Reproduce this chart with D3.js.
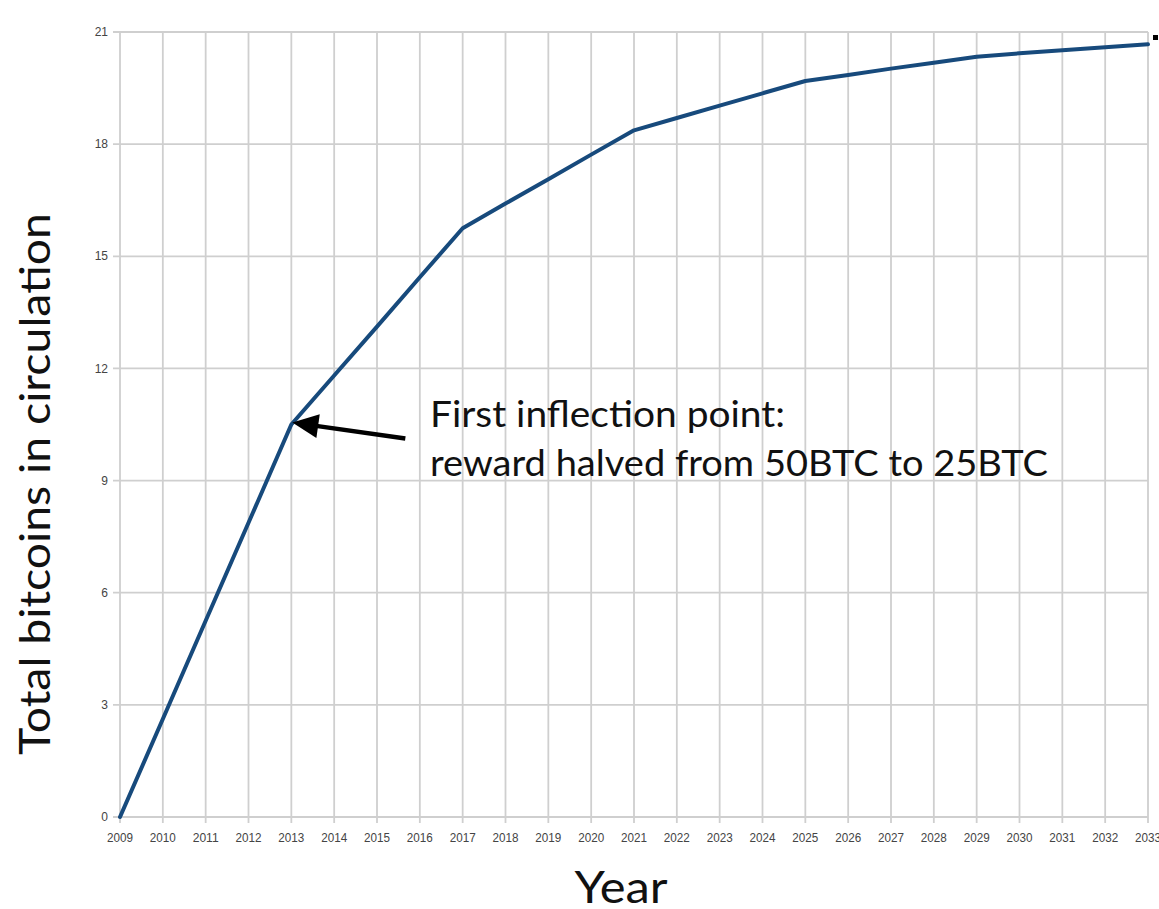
<!DOCTYPE html>
<html>
<head>
<meta charset="utf-8">
<script src="https://cdn.jsdelivr.net/npm/d3@7"></script>
<style>
  html, body { margin: 0; padding: 0; background: #ffffff; }
  svg { display: block; }
</style>
</head>
<body>
<svg id="chart" width="1159" height="909"></svg>
<script>
// ---- data ----
const years = [2009, 2010, 2011, 2012, 2013, 2014, 2015, 2016, 2017, 2018, 2019, 2020, 2021,
               2022, 2023, 2024, 2025, 2026, 2027, 2028, 2029, 2030, 2031, 2032, 2033];
const totalBitcoins = [0, 2.62, 5.25, 7.87, 10.5, 11.81, 13.12, 14.44, 15.75, 16.41, 17.06, 17.72, 18.37,
                       18.7, 19.03, 19.36, 19.69, 19.85, 20.02, 20.18, 20.34, 20.43, 20.51, 20.59, 20.67];
const yTicks = [0, 3, 6, 9, 12, 15, 18, 21];
const xTickLabels = years.map(String);
const annotationPoint = { year: 2013, value: 10.5 };
const annotationLines = ["First inflection point:", "reward halved from 50BTC to 25BTC"];
const xTitle = "Year";
const yTitle = "Total bitcoins in circulation";

// ---- layout ----
const svg = d3.select("#chart");
const pLeft = 120, pRight = 1148, pTop = 32, pBottom = 817;

const x = d3.scaleLinear().domain([2009, 2033]).range([pLeft, pRight]);
const y = d3.scaleLinear().domain([0, 21]).range([pBottom, pTop]);

const grid = svg.append("g");
grid.selectAll("line.v").data(years).enter().append("line")
  .attr("x1", d => x(d)).attr("x2", d => x(d))
  .attr("y1", pTop).attr("y2", pBottom + 6)
  .attr("stroke", "#cfcfcf").attr("stroke-width", 1.8);
grid.selectAll("line.h").data(yTicks).enter().append("line")
  .attr("x1", pLeft - 7).attr("x2", pRight)
  .attr("y1", d => y(d)).attr("y2", d => y(d))
  .attr("stroke", "#cfcfcf").attr("stroke-width", 1.8);

// y tick labels
svg.append("g").selectAll("text").data(yTicks).enter().append("text")
  .attr("x", pLeft - 12).attr("y", d => y(d)).attr("dy", "0.35em")
  .attr("text-anchor", "end")
  .attr("font-family", "Liberation Sans, Arial, sans-serif")
  .attr("font-size", 12).attr("fill", "#444")
  .text(d => d);

// x tick labels
svg.append("g").selectAll("text").data(years).enter().append("text")
  .attr("x", d => x(d)).attr("y", pBottom + 25)
  .attr("text-anchor", "middle")
  .attr("font-family", "Liberation Sans, Arial, sans-serif")
  .attr("font-size", 12).attr("fill", "#444")
  .attr("textLength", 26).attr("lengthAdjust", "spacingAndGlyphs")
  .text((d, i) => xTickLabels[i]);

// data line
const line = d3.line().x((d, i) => x(years[i])).y(d => y(d));
svg.append("path").datum(totalBitcoins)
  .attr("d", line)
  .attr("fill", "none")
  .attr("stroke", "#174a7c")
  .attr("stroke-width", 4)
  .attr("stroke-linejoin", "round")
  .attr("stroke-linecap", "round");

// small black mark at top right
svg.append("rect").attr("x", 1153).attr("y", 35).attr("width", 5).attr("height", 5).attr("fill", "#000");

// annotation arrow
const tipX = x(annotationPoint.year) + 1, tipY = y(annotationPoint.value) - 2;
const tailX = tipX + 113, tailY = tipY + 16;
const dx = tipX - tailX, dy = tipY - tailY;
const len = Math.hypot(dx, dy), ux = dx / len, uy = dy / len;
const headLen = 26, headHalf = 12;
const bx = tipX - ux * headLen, by = tipY - uy * headLen;
svg.append("line")
  .attr("x1", tailX).attr("y1", tailY).attr("x2", bx + ux * 2).attr("y2", by + uy * 2)
  .attr("stroke", "#000").attr("stroke-width", 4.5);
svg.append("path")
  .attr("d", `M${tipX},${tipY} L${bx - uy * headHalf},${by + ux * headHalf} L${bx + uy * headHalf},${by - ux * headHalf} Z`)
  .attr("fill", "#000");

// annotation text
const annLengths = [355, 618];
svg.append("g").selectAll("text").data(annotationLines).enter().append("text")
  .attr("x", 430).attr("y", (d, i) => 427 + i * 49)
  .attr("font-family", "Lato, 'Open Sans', sans-serif")
  .attr("font-size", 37).attr("fill", "#111")
  .attr("textLength", (d, i) => annLengths[i]).attr("lengthAdjust", "spacingAndGlyphs")
  .text(d => d);

// axis titles
svg.append("text")
  .attr("x", 621).attr("y", 903)
  .attr("text-anchor", "middle")
  .attr("font-family", "Lato, 'Open Sans', sans-serif")
  .attr("font-size", 45).attr("fill", "#111")
  .attr("textLength", 93).attr("lengthAdjust", "spacingAndGlyphs")
  .text(xTitle);

svg.append("text")
  .attr("transform", "translate(50,484) rotate(-90)")
  .attr("text-anchor", "middle")
  .attr("font-family", "Lato, 'Open Sans', sans-serif")
  .attr("font-size", 42).attr("fill", "#111")
  .attr("textLength", 542).attr("lengthAdjust", "spacingAndGlyphs")
  .text(yTitle);
</script>
</body>
</html>
